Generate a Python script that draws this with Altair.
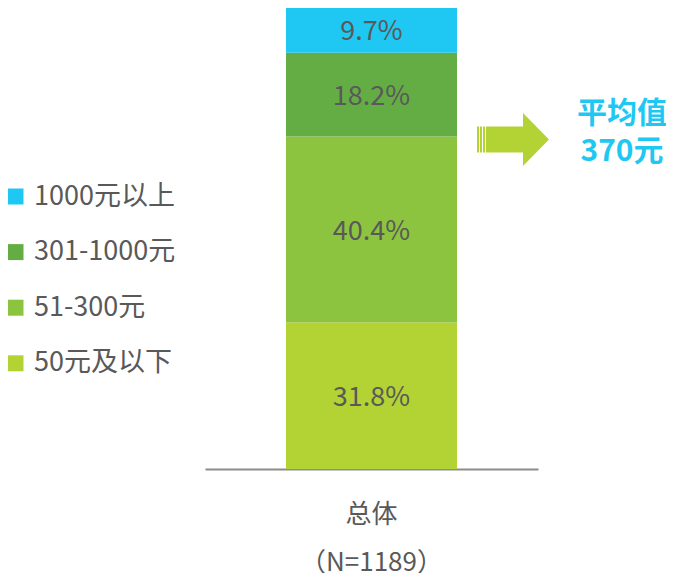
import json
import altair as alt
import pandas as pd

# ---- data ----
categories = ["50元及以下", "51-300元", "301-1000元", "1000元以上"]
values = [31.8, 40.4, 18.2, 9.7]
legend_order = ["1000元以上", "301-1000元", "51-300元", "50元及以下"]
colors = ["#1FC8F2", "#64AD45", "#8DC43F", "#B3D334"]
group_name = "总体"
x_label_lines = ["总体", "（N=1189）"]
avg_text = ["平均值", "370元"]

FONT = "Noto Sans CJK SC"
TEXT = "#595959"

df = pd.DataFrame({
    "group": [group_name] * len(categories),
    "cat": categories,
    "value": values,
    "order": list(range(len(categories))),
})

base = alt.Chart(df).transform_stack(
    stack="value", groupby=["group"], as_=["y0", "y1"],
    sort=[alt.SortField("order", order="ascending")],
).transform_calculate(
    mid="(datum.y0 + datum.y1) / 2",
    label="format(datum.value, '.1f') + '%'",
)

x_enc = alt.X(
    "group:N",
    scale=alt.Scale(paddingInner=0, paddingOuter=0.4737),
    axis=alt.Axis(
        title=None, ticks=False, tickSize=0, labelAngle=0,
        labelExpr=json.dumps(x_label_lines),
        labelFont=FONT, labelFontSize=26, labelColor=TEXT,
        labelPadding=32, labelLineHeight=48,
        domainColor="#8C8C8C", domainWidth=2,
    ),
)
y_scale = alt.Scale(domain=[0, 100.1], nice=False, zero=True)

bars = base.mark_bar(opacity=1).encode(
    x=x_enc,
    y=alt.Y("y0:Q", scale=y_scale, axis=None),
    y2="y1:Q",
    color=alt.Color(
        "cat:N",
        scale=alt.Scale(domain=legend_order, range=colors),
        legend=alt.Legend(
            title=None, orient="none", legendX=-203, legendY=175,
            symbolType="square", symbolSize=256, symbolStrokeWidth=0,
            symbolOpacity=1, labelFont=FONT, labelFontSize=27,
            labelColor=TEXT, labelOffset=5, rowPadding=27.6, padding=0,
        ),
    ),
)

labels = base.mark_text(font=FONT, fontSize=27, color=TEXT, dy=2).encode(
    x=x_enc,
    y=alt.Y("mid:Q", scale=y_scale, axis=None),
    text="label:N",
)

arrow_path = (
    "M-1,-0.36 L-0.944,-0.36 L-0.944,0.36 L-1,0.36 Z "
    "M-0.917,-0.36 L-0.861,-0.36 L-0.861,0.36 L-0.917,0.36 Z "
    "M-0.833,-0.36 L-0.778,-0.36 L-0.778,0.36 L-0.833,0.36 Z "
    "M-0.75,-0.36 L0.278,-0.36 L0.278,-0.736 L1,0 L0.278,0.736 L0.278,0.36 L-0.75,0.36 Z"
)
arrow = alt.Chart(pd.DataFrame({"a": [0]})).mark_point(
    shape=arrow_path, size=5184, filled=True, color="#B3D334",
    opacity=1, strokeWidth=0,
).encode(x=alt.value(308), y=alt.value(131.5))

avg = alt.Chart(pd.DataFrame({"a": [0]})).mark_text(
    text=avg_text, font=FONT, fontSize=30, fontWeight="bold",
    color="#1FC8F2", align="center", baseline="middle", lineHeight=38,
).encode(x=alt.value(417), y=alt.value(106))

chart = alt.layer(bars, labels, arrow, avg).properties(
    width=333, height=461,
    autosize=alt.AutoSizeParams(type="none"),
    padding={"left": 197, "top": 0, "right": 128, "bottom": 104},
).configure_view(stroke=None)

chart.save("out.html", embed_options={"renderer": "svg", "actions": False})
